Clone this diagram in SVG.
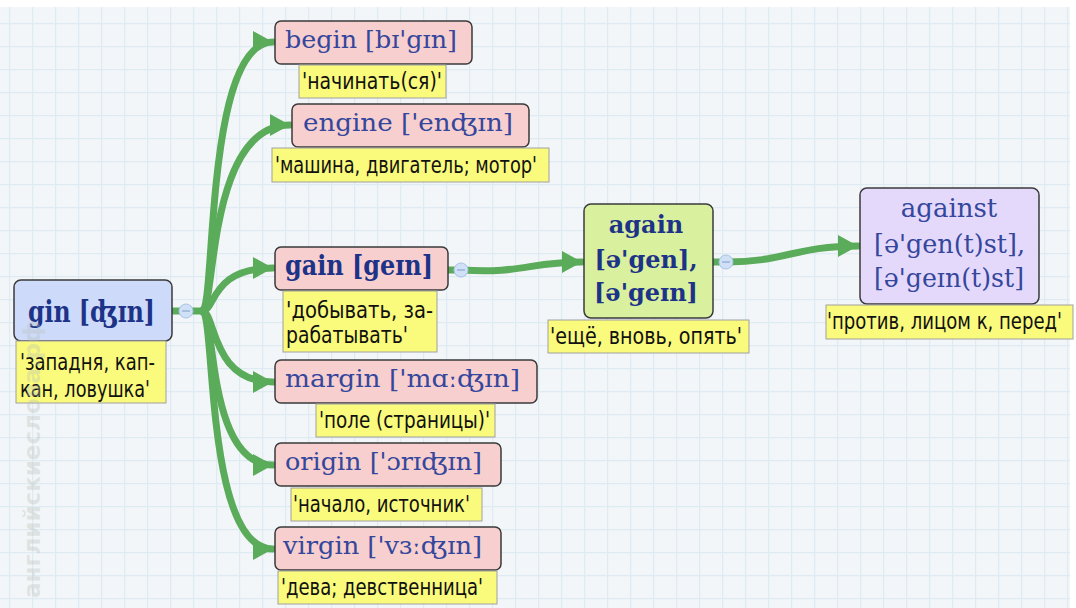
<svg xmlns="http://www.w3.org/2000/svg" width="1076" height="608" viewBox="0 0 1076 608">
<defs>
<pattern id="grid" x="9" y="0" width="23" height="23" patternUnits="userSpaceOnUse">
<rect width="23" height="23" fill="#f3f6f9"/>
<path d="M0 0.5H23M0.5 0V23" stroke="#dfebf2" stroke-width="1.5" fill="none"/>
</pattern>
<marker id="arr" markerUnits="userSpaceOnUse" markerWidth="22" markerHeight="24" refX="20" refY="12" orient="auto">
<path d="M0 1L20 12L0 23Z" fill="#5aab5a"/>
</marker>
<style>
.node{stroke:#3a3a3a;stroke-width:1.5}
.pink{fill:#f8cfcf}
.lbl{fill:#fafa7c;stroke:#a0a0a0;stroke-width:1}
.nt{font-family:"DejaVu Serif",serif;font-size:25px;fill:#34479c}
.nb{font-family:"DejaVu Serif",serif;font-size:24px;font-weight:bold;fill:#1d3388}
.lt{font-family:"DejaVu Sans",sans-serif;font-size:23px;fill:#111}
.con{fill:none;stroke:#5aab5a;stroke-width:7;stroke-linecap:round}
.knob{fill:#cfe0f7;stroke:#a9c3e6;stroke-width:1}
</style>
</defs>
<rect width="1076" height="608" fill="#ffffff"/>
<rect x="0" y="7" width="1070" height="601" fill="url(#grid)"/>

<g id="connectors">
<path class="con" d="M172 311H202"/>
<path class="con" marker-end="url(#arr)" d="M202 311C216 311 204 42 273 42"/>
<path class="con" marker-end="url(#arr)" d="M202 311C216 311 206 125 290 125"/>
<path class="con" marker-end="url(#arr)" d="M202 311C216 311 210 268 273 268"/>
<path class="con" marker-end="url(#arr)" d="M202 311C216 311 210 382 273 382"/>
<path class="con" marker-end="url(#arr)" d="M202 311C216 311 206 465 273 465"/>
<path class="con" marker-end="url(#arr)" d="M202 311C216 311 204 549 273 549"/>
<path class="con" d="M448 270H462"/>
<path class="con" marker-end="url(#arr)" d="M462 270C520 274 530 262 582 262"/>
<path class="con" d="M713 262H727"/>
<path class="con" marker-end="url(#arr)" d="M727 262C785 262 795 246 858 246"/>
</g>

<g id="gin">
<rect class="node" x="14" y="280" width="158" height="61" rx="7" fill="#cddafa"/>
<text class="nb" x="28" y="322" style="font-size:29px" textLength="127" lengthAdjust="spacingAndGlyphs">gin [ʤɪn]</text>
<rect class="lbl" x="16" y="341" width="150" height="62"/>
<text class="lt" x="20" y="370" textLength="135" lengthAdjust="spacingAndGlyphs">'западня, кап-</text>
<text class="lt" x="20" y="397" textLength="130" lengthAdjust="spacingAndGlyphs">кан, ловушка'</text>
<circle class="knob" cx="186" cy="311" r="7"/>
<path d="M182 311H190" stroke="#7f9cc7" stroke-width="1"/>
</g>

<g id="begin">
<rect class="node pink" x="275" y="21" width="197" height="43" rx="6"/>
<text class="nt" x="285" y="48" textLength="172" lengthAdjust="spacingAndGlyphs">begin [bɪ'gɪn]</text>
<rect class="lbl" x="299" y="65" width="147" height="33"/>
<text class="lt" x="302" y="89" textLength="140" lengthAdjust="spacingAndGlyphs">'начинать(ся)'</text>
</g>

<g id="engine">
<rect class="node pink" x="292" y="104" width="237" height="43" rx="6"/>
<text class="nt" x="303" y="131" textLength="210" lengthAdjust="spacingAndGlyphs">engine ['enʤɪn]</text>
<rect class="lbl" x="272" y="148" width="277" height="34"/>
<text class="lt" x="275" y="173" textLength="262" lengthAdjust="spacingAndGlyphs">'машина, двигатель; мотор'</text>
</g>

<g id="gain">
<rect class="node pink" x="275" y="247" width="173" height="43" rx="6"/>
<text class="nb" x="285" y="275" style="font-size:27px" textLength="148" lengthAdjust="spacingAndGlyphs">gain [geɪn]</text>
<rect class="lbl" x="283" y="291" width="154" height="61"/>
<text class="lt" x="286" y="318" textLength="147" lengthAdjust="spacingAndGlyphs">'добывать, за-</text>
<text class="lt" x="286" y="343" textLength="122" lengthAdjust="spacingAndGlyphs">рабатывать'</text>
<circle class="knob" cx="461" cy="270" r="7"/>
<path d="M457 270H465" stroke="#7f9cc7" stroke-width="1"/>
</g>

<g id="again">
<rect class="node" x="584" y="204" width="129" height="114" rx="7" fill="#d9f09e"/>
<text class="nb" x="646" y="233" text-anchor="middle">again</text>
<text class="nb" x="646" y="268" text-anchor="middle">[ə'gen],</text>
<text class="nb" x="646" y="301" text-anchor="middle">[ə'geɪn]</text>
<rect class="lbl" x="548" y="320" width="201" height="33"/>
<text class="lt" x="550" y="344" textLength="192" lengthAdjust="spacingAndGlyphs">'ещё, вновь, опять'</text>
<circle class="knob" cx="726" cy="262" r="7"/>
<path d="M722 262H730" stroke="#7f9cc7" stroke-width="1"/>
</g>

<g id="against">
<rect class="node" x="860" y="188" width="179" height="116" rx="7" fill="#e5d9fb"/>
<text class="nt" x="949" y="217" text-anchor="middle" style="font-size:26px">against</text>
<text class="nt" x="874" y="253" style="font-size:26px" textLength="151" lengthAdjust="spacingAndGlyphs">[ə'gen(t)st],</text>
<text class="nt" x="874" y="287" style="font-size:26px" textLength="150" lengthAdjust="spacingAndGlyphs">[ə'geɪn(t)st]</text>
<rect class="lbl" x="826" y="305" width="247" height="34"/>
<text class="lt" x="827" y="329" textLength="235" lengthAdjust="spacingAndGlyphs">'против, лицом к, перед'</text>
</g>

<g id="margin">
<rect class="node pink" x="275" y="360" width="262" height="43" rx="6"/>
<text class="nt" x="285" y="387" textLength="235" lengthAdjust="spacingAndGlyphs">margin ['mɑːʤɪn]</text>
<rect class="lbl" x="316" y="404" width="179" height="33"/>
<text class="lt" x="319" y="428" textLength="171" lengthAdjust="spacingAndGlyphs">'поле (страницы)'</text>
</g>

<g id="origin">
<rect class="node pink" x="275" y="443" width="226" height="43" rx="6"/>
<text class="nt" x="285" y="470" textLength="197" lengthAdjust="spacingAndGlyphs">origin ['ɔrɪʤɪn]</text>
<rect class="lbl" x="291" y="488" width="191" height="33"/>
<text class="lt" x="293" y="512" textLength="177" lengthAdjust="spacingAndGlyphs">'начало, источник'</text>
</g>

<g id="virgin">
<rect class="node pink" x="275" y="527" width="226" height="43" rx="6"/>
<text class="nt" x="283" y="554" textLength="199" lengthAdjust="spacingAndGlyphs">virgin ['vɜːʤɪn]</text>
<rect class="lbl" x="278" y="571" width="219" height="33"/>
<text class="lt" x="281" y="595" textLength="202" lengthAdjust="spacingAndGlyphs">'дева; девственница'</text>
</g>

<text x="0" y="0" transform="translate(40 598) rotate(-90)" font-family="DejaVu Sans, sans-serif" font-weight="bold" font-size="23" fill="#b8c0b8" fill-opacity="0.35">английскиеслова.рф</text>
</svg>
